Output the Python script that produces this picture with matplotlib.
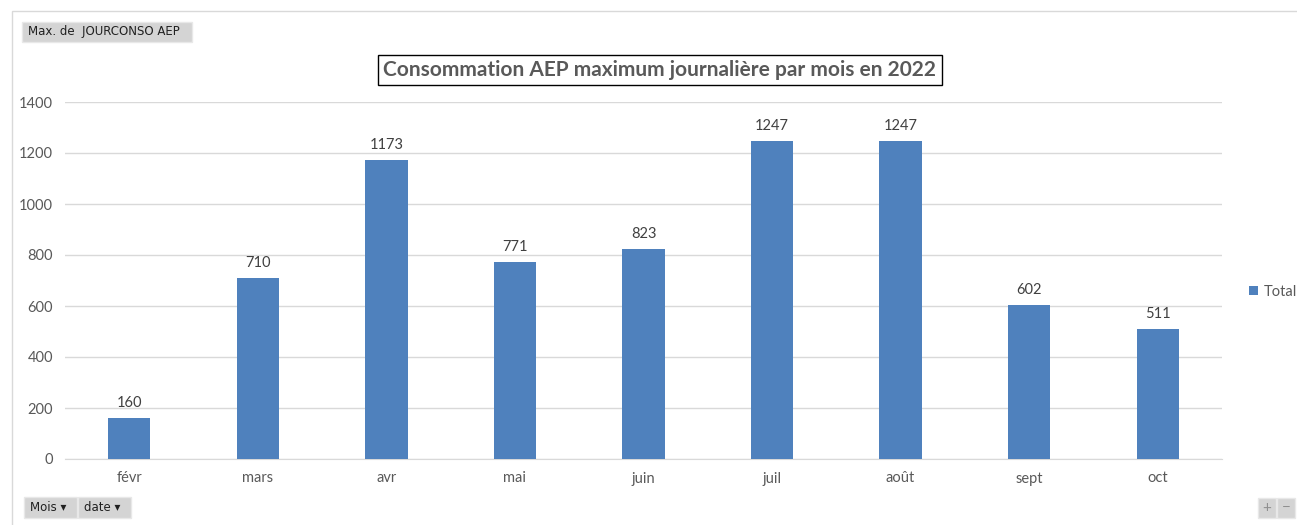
import matplotlib.pyplot as plt
from matplotlib.patches import Rectangle

plt.rcParams['font.family'] = ['Lato', 'DejaVu Sans']

mois = ['févr', 'mars', 'avr', 'mai', 'juin', 'juil', 'août', 'sept', 'oct']
valeurs = [160, 710, 1173, 771, 823, 1247, 1247, 602, 511]
yticks = [0, 200, 400, 600, 800, 1000, 1200, 1400]

bleu = '#4F81BD'
gris = '#595959'

fig = plt.figure(figsize=(12.97, 5.25), dpi=100)
ax = fig.add_axes([65 / 1297, 1 - 459 / 525, (1222 - 65) / 1297, (459 - 102) / 525])

x = range(len(mois))
bars = ax.bar(x, valeurs, width=0.33, color=bleu, zorder=3, label='Total')
for b, v in zip(bars, valeurs):
    ax.text(b.get_x() + b.get_width() / 2, v + 32, str(v), ha='center', va='bottom',
            fontsize=10.5, color='#404040')

ax.set_xlim(-0.5, len(mois) - 0.5)
ax.set_ylim(0, 1400)
ax.set_yticks(yticks)
ax.set_xticks(list(x))
ax.set_xticklabels(mois)
ax.tick_params(axis='both', length=0, colors=gris, labelsize=10.5)
ax.tick_params(axis='y', pad=8.5)
ax.tick_params(axis='x', pad=9)
ax.grid(axis='y', color='#D9D9D9', linewidth=1, zorder=0)
for s in ['top', 'right', 'left']:
    ax.spines[s].set_visible(False)
ax.spines['bottom'].set_color('#D9D9D9')

# titre encadré
fig.text(660 / 1297, 1 - 70 / 525, 'Consommation AEP maximum journalière par mois en 2022',
         ha='center', va='center', fontsize=15, fontweight='bold', color=gris,
         bbox=dict(boxstyle='square,pad=0.25', facecolor='white', edgecolor='black', linewidth=1))

# légende
fig.legend(handles=[bars], labels=['Total'], loc='center left',
           bbox_to_anchor=(1236 / 1297, 1 - 292 / 525), frameon=False,
           fontsize=10.5, labelcolor=gris, handlelength=0.6, handleheight=0.6,
           handletextpad=0.4)

# cadre extérieur
fig.patches.append(Rectangle((12 / 1297, -0.01), 1.02, 1 - 11 / 525 + 0.01,
                             transform=fig.transFigure, fill=False,
                             edgecolor='#D9D9D9', linewidth=1))

# boutons du tableau croisé
def bouton(x0, y0, w, h, texte):
    fig.patches.append(Rectangle((x0 / 1297, 1 - (y0 + h) / 525), w / 1297, h / 525,
                                 transform=fig.transFigure, facecolor='#D4D4D4',
                                 edgecolor='#E8E8E8', linewidth=1))
    fig.text((x0 + 6) / 1297, 1 - (y0 + h / 2) / 525, texte, ha='left', va='center',
             fontsize=8.5, color='#202020', family=['DejaVu Sans'])

bouton(22, 22, 170, 20, 'Max. de  JOURCONSO AEP')
bouton(24, 497, 53, 21, 'Mois ▾')
bouton(78, 497, 53, 21, 'date ▾')
bouton(1258, 498, 18, 20, '')
bouton(1277, 498, 18, 20, '')
fig.text(1267 / 1297, 1 - 508 / 525, '+', ha='center', va='center', fontsize=11, color='#909090')
fig.text(1286 / 1297, 1 - 508 / 525, '−', ha='center', va='center', fontsize=11, color='#909090')

fig.savefig('out.png', dpi=100)
